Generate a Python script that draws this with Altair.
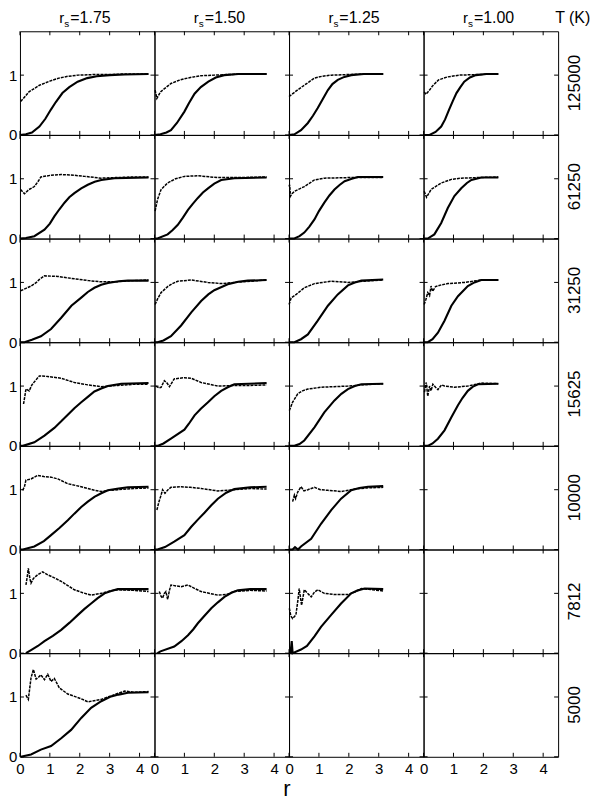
import altair as alt
import pandas as pd

T_LABELS = ["125000", "61250", "31250", "15625", "10000", "7812", "5000"]
RS_LABELS = ["1.75", "1.50", "1.25", "1.00"]
X_TICKS = [0, 1, 2, 3, 4]
Y_TICKS = [0, 1]
X_MAX = 4.5
Y_MAX = 104 / 60

# ---- noisy curves (g) and smooth curves (h): (r, value) pairs ----
g_125000_175 = [(0.02,0.56),(0.1,0.6),(0.3,0.72),(0.65,0.83),(1.0,0.9),(1.3,0.95),(1.6,0.98),(1.95,1.0),(2.5,1.01),(3.0,1.01),(3.5,1.02),(4.3,1.02)]
h_125000_175 = [(0,0),(0.2,0.01),(0.4,0.04),(0.65,0.14),(0.85,0.27),(1.03,0.42),(1.2,0.55),(1.42,0.7),(1.65,0.8),(1.93,0.89),(2.25,0.95),(2.57,0.98),(3.0,1.0),(3.5,1.01),(4.3,1.02)]
g_125000_150 = [(0.02,0.75),(0.08,0.61),(0.2,0.72),(0.4,0.8),(0.55,0.86),(0.8,0.91),(1.0,0.94),(1.3,0.97),(1.55,0.99),(2.0,1.0),(2.5,1.01),(3.0,1.02),(3.75,1.02)]
h_125000_150 = [(0,0),(0.2,0.01),(0.4,0.04),(0.55,0.08),(0.75,0.2),(1.0,0.39),(1.15,0.53),(1.34,0.69),(1.55,0.8),(1.8,0.89),(2.05,0.96),(2.33,1.0),(2.8,1.02),(3.75,1.02)]
g_125000_125 = [(0.0,0.64),(0.2,0.72),(0.42,0.8),(0.65,0.88),(0.85,0.95),(1.1,0.98),(1.41,1.0),(2.0,1.01),(2.5,1.02),(3.15,1.02)]
h_125000_125 = [(0,0),(0.18,0.01),(0.4,0.08),(0.63,0.2),(0.8,0.32),(0.96,0.45),(1.13,0.6),(1.3,0.75),(1.45,0.85),(1.63,0.92),(1.85,0.97),(2.08,1.0),(2.5,1.02),(3.15,1.02)]
g_125000_100 = [(0.02,0.72),(0.08,0.68),(0.2,0.75),(0.3,0.82),(0.5,0.92),(0.8,0.97),(1.2,1.0),(1.8,1.01),(2.5,1.02)]
h_125000_100 = [(0,0),(0.2,0.0),(0.4,0.05),(0.59,0.14),(0.72,0.26),(0.85,0.42),(0.98,0.57),(1.1,0.7),(1.23,0.8),(1.36,0.89),(1.55,0.96),(1.75,1.0),(2.1,1.02),(2.5,1.02)]

g_61250_175 = [(0.02,0.82),(0.15,0.75),(0.3,0.82),(0.48,0.87),(0.6,0.95),(0.7,1.03),(1.04,1.06),(1.38,1.07),(1.8,1.06),(2.16,1.04),(2.72,1.01),(3.2,1.02),(3.8,1.03),(4.3,1.03)]
h_61250_175 = [(0,0),(0.2,0.01),(0.48,0.04),(0.82,0.15),(1.0,0.25),(1.15,0.37),(1.32,0.49),(1.49,0.6),(1.65,0.69),(1.82,0.76),(2.05,0.84),(2.27,0.9),(2.5,0.95),(2.72,0.98),(3.16,1.01),(4.3,1.02)]
g_61250_150 = [(0.02,0.46),(0.1,0.65),(0.22,0.82),(0.44,0.93),(0.7,1.0),(1.0,1.04),(1.45,1.05),(2.12,1.02),(2.8,1.02),(3.75,1.03)]
h_61250_150 = [(0,0),(0.1,0.0),(0.44,0.07),(0.6,0.14),(0.78,0.23),(0.95,0.35),(1.12,0.48),(1.28,0.58),(1.45,0.68),(1.62,0.77),(1.79,0.84),(2.0,0.92),(2.23,0.98),(2.67,1.01),(3.75,1.02)]
g_61250_125 = [(0.0,0.87),(0.02,0.9),(0.05,0.71),(0.1,0.75),(0.18,0.79),(0.35,0.83),(0.51,0.87),(0.7,0.93),(0.85,0.98),(1.18,1.01),(2.0,1.02),(3.15,1.02)]
h_61250_125 = [(0,0),(0.18,0.0),(0.35,0.04),(0.51,0.1),(0.68,0.2),(0.85,0.32),(1.0,0.46),(1.18,0.6),(1.35,0.72),(1.52,0.82),(1.7,0.9),(1.86,0.96),(2.1,1.0),(2.3,1.03),(3.15,1.03)]
g_61250_100 = [(0.02,0.79),(0.1,0.69),(0.25,0.82),(0.4,0.87),(0.59,0.93),(0.93,0.99),(1.26,1.01),(1.8,1.02),(2.5,1.03)]
h_61250_100 = [(0,0),(0.14,0.0),(0.36,0.07),(0.59,0.26),(0.81,0.51),(1.03,0.71),(1.26,0.84),(1.45,0.93),(1.6,0.98),(1.93,1.02),(2.5,1.02)]

g_31250_175 = [(0.02,0.86),(0.2,0.9),(0.37,0.94),(0.55,1.0),(0.65,1.05),(0.82,1.11),(1.27,1.1),(1.82,1.06),(2.3,1.03),(2.72,1.01),(3.2,1.01),(3.8,1.03),(4.3,1.04)]
h_31250_175 = [(0,0),(0.15,0.0),(0.4,0.04),(0.7,0.1),(1.04,0.22),(1.38,0.41),(1.72,0.61),(2.06,0.75),(2.27,0.84),(2.49,0.91),(2.72,0.96),(2.94,0.99),(3.3,1.02),(3.61,1.03),(4.3,1.03)]
g_31250_150 = [(0.02,0.63),(0.1,0.72),(0.22,0.83),(0.44,0.93),(0.6,0.98),(0.78,1.02),(1.23,1.04),(1.79,1.0),(2.23,0.98),(2.67,1.0),(3.2,1.02),(3.75,1.04)]
h_31250_150 = [(0,0),(0.1,0.0),(0.3,0.03),(0.55,0.1),(0.89,0.28),(1.23,0.5),(1.56,0.69),(1.8,0.8),(2.0,0.87),(2.45,0.97),(2.8,1.01),(3.12,1.03),(3.75,1.04)]
g_31250_125 = [(0.0,0.63),(0.07,0.74),(0.24,0.8),(0.51,0.91),(0.85,0.98),(1.41,1.02),(1.97,1.0),(2.5,1.02),(3.15,1.04)]
h_31250_125 = [(0,0),(0.18,0.0),(0.4,0.05),(0.63,0.13),(0.96,0.36),(1.3,0.61),(1.63,0.8),(1.97,0.95),(2.2,1.0),(2.42,1.03),(3.15,1.05)]
g_31250_100 = [(0.02,0.63),(0.08,0.72),(0.14,0.83),(0.2,0.78),(0.25,0.94),(0.3,0.85),(0.4,0.93),(0.6,0.96),(0.81,0.98),(1.37,1.0),(1.93,1.04),(2.5,1.04)]
h_31250_100 = [(0,0),(0.14,0.0),(0.3,0.05),(0.48,0.16),(0.7,0.36),(0.93,0.61),(1.15,0.77),(1.48,0.94),(1.7,1.0),(1.93,1.04),(2.5,1.04)]

g_15625_175 = [(0.12,0.7),(0.17,0.85),(0.2,0.95),(0.31,0.92),(0.4,1.02),(0.48,1.07),(0.65,1.17),(0.93,1.16),(1.38,1.13),(1.82,1.06),(2.27,1.02),(2.72,0.99),(3.27,1.01),(3.8,1.03),(4.3,1.03)]
h_15625_175 = [(0,0),(0.1,0.0),(0.48,0.06),(0.82,0.17),(1.15,0.3),(1.38,0.41),(1.6,0.52),(1.82,0.63),(2.05,0.73),(2.27,0.82),(2.49,0.91),(2.72,0.96),(2.94,1.0),(3.39,1.04),(4.3,1.05)]
g_15625_150 = [(0.05,1.0),(0.15,0.97),(0.22,0.98),(0.33,1.09),(0.42,1.05),(0.5,0.99),(0.66,1.12),(1.0,1.14),(1.23,1.13),(1.56,1.06),(2.12,1.0),(2.67,1.01),(3.2,1.01),(3.75,1.02)]
h_15625_150 = [(0,0),(0.1,0.0),(0.3,0.04),(0.55,0.12),(1.0,0.27),(1.15,0.37),(1.34,0.51),(1.55,0.62),(1.79,0.73),(2.0,0.83),(2.23,0.92),(2.45,0.98),(2.67,1.03),(3.75,1.05)]
g_15625_125 = [(0.01,0.59),(0.12,0.73),(0.29,0.87),(0.45,0.92),(0.63,0.95),(1.07,0.98),(1.5,0.99),(1.97,1.0),(2.5,1.02),(3.15,1.04)]
h_15625_125 = [(0,0),(0.18,0.0),(0.35,0.03),(0.51,0.09),(0.85,0.31),(1.18,0.56),(1.52,0.76),(1.75,0.87),(1.97,0.95),(2.2,1.0),(2.42,1.03),(3.15,1.04)]
g_15625_100 = [(0.03,0.9),(0.09,1.06),(0.14,0.83),(0.2,1.0),(0.25,0.92),(0.31,1.03),(0.4,0.98),(0.48,0.94),(0.6,1.02),(0.7,1.0),(1.03,0.98),(1.48,1.0),(1.93,1.05),(2.5,1.04)]
h_15625_100 = [(0,0),(0.14,0.0),(0.3,0.04),(0.48,0.12),(0.7,0.26),(0.93,0.48),(1.15,0.68),(1.3,0.8),(1.48,0.92),(1.65,0.99),(1.82,1.03),(2.5,1.04)]

g_10000_175 = [(0.09,0.99),(0.15,1.05),(0.2,1.16),(0.37,1.18),(0.59,1.24),(0.8,1.22),(1.04,1.21),(1.27,1.18),(1.6,1.1),(2.05,1.05),(2.49,0.99),(2.72,0.97),(3.0,0.99),(3.27,1.0),(3.8,1.02),(4.3,1.03)]
h_10000_175 = [(0,0),(0.1,0.0),(0.48,0.05),(0.8,0.14),(1.04,0.24),(1.32,0.36),(1.6,0.49),(1.82,0.6),(2.05,0.71),(2.27,0.8),(2.49,0.88),(2.72,0.94),(2.94,0.99),(3.3,1.02),(3.61,1.04),(4.3,1.05)]
g_10000_150 = [(0.08,0.66),(0.15,0.8),(0.22,0.91),(0.27,1.0),(0.35,0.94),(0.45,1.0),(0.55,1.04),(0.89,1.05),(1.2,1.04),(1.56,1.02),(2.12,0.98),(2.67,1.0),(3.2,1.02),(3.75,1.01)]
h_10000_150 = [(0,0),(0.1,0.0),(0.35,0.04),(0.66,0.13),(1.0,0.24),(1.23,0.38),(1.45,0.5),(1.68,0.62),(1.9,0.74),(2.12,0.85),(2.4,0.95),(2.67,1.01),(3.2,1.04),(3.75,1.05)]
g_10000_125 = [(0.12,0.8),(0.18,0.91),(0.22,0.85),(0.29,0.96),(0.4,1.05),(0.5,0.98),(0.63,1.0),(0.85,1.04),(1.05,1.0),(1.3,0.99),(1.74,0.97),(2.19,1.01),(2.6,1.03),(3.15,1.04)]
h_10000_125 = [(0,0),(0.12,0.0),(0.2,0.04),(0.3,0.0),(0.4,0.05),(0.74,0.18),(1.07,0.43),(1.41,0.66),(1.74,0.85),(2.08,0.99),(2.35,1.03),(2.64,1.05),(3.15,1.06)]

g_7812_175 = [(0.2,1.14),(0.25,1.3),(0.28,1.42),(0.33,1.25),(0.37,1.17),(0.45,1.25),(0.59,1.31),(0.76,1.36),(0.93,1.31),(1.15,1.26),(1.38,1.2),(1.6,1.13),(1.82,1.06),(2.1,1.01),(2.38,0.97),(2.72,1.0),(3.0,1.04),(3.27,1.06),(3.8,1.05),(4.3,1.03)]
h_7812_175 = [(0.2,0.0),(0.37,0.05),(0.6,0.12),(0.82,0.2),(1.1,0.29),(1.38,0.39),(1.66,0.51),(1.94,0.64),(2.16,0.74),(2.38,0.83),(2.6,0.92),(2.83,1.0),(3.05,1.04),(3.27,1.07),(4.3,1.07)]
g_7812_150 = [(0.16,1.03),(0.22,0.95),(0.27,0.92),(0.33,1.0),(0.38,1.03),(0.44,0.9),(0.5,1.05),(0.55,1.14),(0.89,1.11),(1.12,1.14),(1.35,1.08),(1.56,1.03),(2.12,0.97),(2.4,0.98),(2.67,1.03),(3.2,1.05),(3.75,1.04)]
h_7812_150 = [(0.1,0.0),(0.2,0.03),(0.66,0.11),(0.9,0.2),(1.12,0.3),(1.3,0.4),(1.45,0.5),(1.68,0.63),(1.9,0.75),(2.12,0.85),(2.34,0.94),(2.57,1.01),(2.79,1.05),(3.2,1.07),(3.75,1.07)]
g_7812_125 = [(0.01,0.75),(0.06,0.62),(0.12,0.58),(0.23,0.64),(0.3,0.9),(0.34,1.08),(0.42,0.8),(0.51,1.06),(0.62,1.0),(0.74,0.94),(0.85,1.02),(0.96,1.06),(1.18,1.0),(1.52,0.98),(1.97,0.98),(2.2,1.02),(2.42,1.08),(2.8,1.06),(3.15,1.04)]
h_7812_125 = [(0.05,0.0),(0.09,0.2),(0.12,0.0),(0.4,0.06),(0.6,0.12),(0.85,0.28),(1.07,0.44),(1.41,0.64),(1.74,0.83),(2.08,1.0),(2.3,1.05),(2.53,1.08),(3.15,1.07)]

g_5000_175 = [(0.2,1.03),(0.28,0.96),(0.37,1.32),(0.45,1.46),(0.54,1.3),(0.62,1.33),(0.7,1.37),(0.82,1.29),(0.93,1.38),(1.04,1.26),(1.15,1.31),(1.32,1.15),(1.6,1.05),(2.05,0.97),(2.27,0.92),(2.72,0.96),(3.16,1.04),(3.5,1.1),(3.83,1.08),(4.3,1.09)]
h_5000_175 = [(0.03,0.0),(0.37,0.04),(0.7,0.12),(1.04,0.18),(1.38,0.31),(1.71,0.45),(2.05,0.65),(2.38,0.82),(2.72,0.93),(3.05,1.01),(3.3,1.04),(3.61,1.07),(4.3,1.08)]

NOISY = {
    ("125000", "1.75"): g_125000_175, ("125000", "1.50"): g_125000_150,
    ("125000", "1.25"): g_125000_125, ("125000", "1.00"): g_125000_100,
    ("61250", "1.75"): g_61250_175, ("61250", "1.50"): g_61250_150,
    ("61250", "1.25"): g_61250_125, ("61250", "1.00"): g_61250_100,
    ("31250", "1.75"): g_31250_175, ("31250", "1.50"): g_31250_150,
    ("31250", "1.25"): g_31250_125, ("31250", "1.00"): g_31250_100,
    ("15625", "1.75"): g_15625_175, ("15625", "1.50"): g_15625_150,
    ("15625", "1.25"): g_15625_125, ("15625", "1.00"): g_15625_100,
    ("10000", "1.75"): g_10000_175, ("10000", "1.50"): g_10000_150,
    ("10000", "1.25"): g_10000_125,
    ("7812", "1.75"): g_7812_175, ("7812", "1.50"): g_7812_150,
    ("7812", "1.25"): g_7812_125,
    ("5000", "1.75"): g_5000_175,
}
SMOOTH = {
    ("125000", "1.75"): h_125000_175, ("125000", "1.50"): h_125000_150,
    ("125000", "1.25"): h_125000_125, ("125000", "1.00"): h_125000_100,
    ("61250", "1.75"): h_61250_175, ("61250", "1.50"): h_61250_150,
    ("61250", "1.25"): h_61250_125, ("61250", "1.00"): h_61250_100,
    ("31250", "1.75"): h_31250_175, ("31250", "1.50"): h_31250_150,
    ("31250", "1.25"): h_31250_125, ("31250", "1.00"): h_31250_100,
    ("15625", "1.75"): h_15625_175, ("15625", "1.50"): h_15625_150,
    ("15625", "1.25"): h_15625_125, ("15625", "1.00"): h_15625_100,
    ("10000", "1.75"): h_10000_175, ("10000", "1.50"): h_10000_150,
    ("10000", "1.25"): h_10000_125,
    ("7812", "1.75"): h_7812_175, ("7812", "1.50"): h_7812_150,
    ("7812", "1.25"): h_7812_125,
    ("5000", "1.75"): h_5000_175,
}

# ---- build one long table ----
rows = []
for name, table in (("g", NOISY), ("h", SMOOTH)):
    for (t, rs), pts in table.items():
        for i, (r, v) in enumerate(pts):
            rows.append({"T": t, "rs": rs, "kind": name, "i": i, "r": r, "v": v})

TX = 4 / 60   # inward tick length along y (data units)
TY = 4 / 30   # inward tick length along x (data units)
for t in T_LABELS:
    for rs in RS_LABELS:
        for xt in X_TICKS:
            rows.append({"T": t, "rs": rs, "kind": "tick", "x0": xt, "x1": xt, "y0": 0, "y1": TX})
            rows.append({"T": t, "rs": rs, "kind": "tick", "x0": xt, "x1": xt, "y0": Y_MAX, "y1": Y_MAX - TX})
        for yt in Y_TICKS:
            rows.append({"T": t, "rs": rs, "kind": "tick", "x0": 0, "x1": TY, "y0": yt, "y1": yt})
            rows.append({"T": t, "rs": rs, "kind": "tick", "x0": X_MAX, "x1": X_MAX - TY, "y0": yt, "y1": yt})
for rs in RS_LABELS:
    rows.append({"T": T_LABELS[0], "rs": rs, "kind": "hdr", "label": "=" + rs})
rows.append({"T": T_LABELS[0], "rs": RS_LABELS[-1], "kind": "tk", "label": "T (K)"})

df = pd.DataFrame(rows)

W, H = 135, 104
FONT = "Liberation Sans"

xscale = alt.Scale(domain=[0, X_MAX], nice=False, zero=False)
yscale = alt.Scale(domain=[0, Y_MAX], nice=False, zero=False)
xaxis = alt.Axis(values=X_TICKS, ticks=False, domain=False, grid=False, title=None,
                 labelFontSize=15, labelFont=FONT, labelColor="black", labelPadding=5,
                 format="d", labelFlush=False, labelOverlap=False)
yaxis = alt.Axis(values=Y_TICKS, ticks=False, domain=False, grid=False, title=None,
                 labelFontSize=15, labelFont=FONT, labelColor="black", labelPadding=3.16,
                 format="d", labelFlush=False, labelOverlap=False)

noisy = alt.Chart().mark_line(color="black", strokeWidth=1.5, strokeDash=[3, 1]).encode(
    x=alt.X("r:Q", scale=xscale, axis=xaxis),
    y=alt.Y("v:Q", scale=yscale, axis=yaxis),
    order="i:Q",
).transform_filter(alt.datum.kind == "g")

smooth = alt.Chart().mark_line(color="black", strokeWidth=2.1).encode(
    x=alt.X("r:Q", scale=xscale, axis=xaxis),
    y=alt.Y("v:Q", scale=yscale, axis=yaxis),
    order="i:Q",
).transform_filter(alt.datum.kind == "h")

ticks = alt.Chart().mark_rule(color="black", strokeWidth=1).encode(
    x=alt.X("x0:Q", scale=xscale, axis=xaxis),
    x2="x1:Q",
    y=alt.Y("y0:Q", scale=yscale, axis=yaxis),
    y2="y1:Q",
).transform_filter(alt.datum.kind == "tick")

hdr_r = alt.Chart().mark_text(font=FONT, fontSize=15, align="right", baseline="alphabetic", color="black").encode(
    x=alt.value(W / 2 - 23), y=alt.value(-8.5), text=alt.value("r")
).transform_filter(alt.datum.kind == "hdr")
hdr_s = alt.Chart().mark_text(font=FONT, fontSize=10, align="left", baseline="alphabetic", color="black").encode(
    x=alt.value(W / 2 - 23), y=alt.value(-4.5), text=alt.value("s")
).transform_filter(alt.datum.kind == "hdr")
hdr_v = alt.Chart().mark_text(font=FONT, fontSize=16, align="left", baseline="alphabetic", color="black").encode(
    x=alt.value(W / 2 - 17), y=alt.value(-8.5), text="label:N"
).transform_filter(alt.datum.kind == "hdr")
tk = alt.Chart().mark_text(font=FONT, fontSize=16, align="left", baseline="alphabetic", color="black").encode(
    x=alt.value(W - 3), y=alt.value(-8.5), text="label:N"
).transform_filter(alt.datum.kind == "tk")

layered = alt.layer(ticks, smooth, noisy, hdr_r, hdr_s, hdr_v, tk, data=df).properties(width=W, height=H)

chart = layered.facet(
    row=alt.Row("T:N", sort=T_LABELS,
                header=alt.Header(title=None, labelOrient="right", labelAngle=270,
                                  labelAlign="center", labelBaseline="middle",
                                  labelFontSize=17, labelFont=FONT, labelColor="black",
                                  labelPadding=0)),
    column=alt.Column("rs:N", sort=RS_LABELS, header=None),
    spacing=0,
    bounds="flush",
).properties(
    title=alt.TitleParams("r", orient="bottom", anchor="middle", fontSize=22, font=FONT,
                          fontWeight="normal", color="black", offset=2, dx=-13),
    padding=0,
).configure(font=FONT).configure_view(stroke="black", strokeWidth=1)

chart.save("out.html", embed_options={"renderer": "svg", "actions": False})
